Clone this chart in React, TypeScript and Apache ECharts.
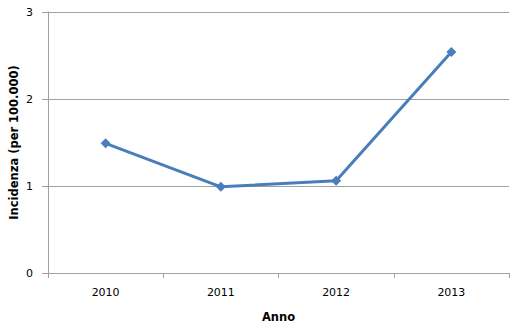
import React, { useEffect, useRef } from "react";
import * as echarts from "echarts";

const categories = ["2010", "2011", "2012", "2013"];
const incidenza = [1.49, 0.99, 1.06, 2.54];
const yTicks = { min: 0, max: 3, interval: 1 };

export default function App() {
  const ref = useRef<HTMLDivElement>(null);
  useEffect(() => {
    const chart = echarts.init(ref.current!, null, { renderer: "svg" });
    const font = "DejaVu Sans, Verdana, sans-serif";
    chart.setOption({
      animation: false,
      backgroundColor: "#ffffff",
      grid: {
        left: 48,
        top: 12,
        right: 14,
        bottom: 57,
        containLabel: false,
        outerBoundsMode: "none",
      },
      xAxis: {
        type: "category",
        data: categories,
        boundaryGap: true,
        name: "Anno",
        nameLocation: "middle",
        nameGap: 38,
        nameMoveOverlap: false,
        nameTextStyle: { fontFamily: font, fontSize: 11.5, fontWeight: "bold", color: "#000" },
        axisLine: { lineStyle: { color: "#a0a0a0", width: 1 } },
        axisTick: { show: true, length: 5, inside: false, lineStyle: { color: "#a0a0a0" } },
        axisLabel: { fontFamily: font, fontSize: 11, color: "#000", margin: 14 },
        splitLine: { show: false },
      },
      yAxis: {
        type: "value",
        min: yTicks.min,
        max: yTicks.max,
        interval: yTicks.interval,
        name: "Incidenza (per 100.000)",
        nameLocation: "middle",
        nameGap: 28,
        nameMoveOverlap: false,
        nameRotate: 90,
        nameTextStyle: { fontFamily: font, fontSize: 11.5, fontWeight: "bold", color: "#000" },
        axisLine: { show: true, lineStyle: { color: "#a0a0a0", width: 1 } },
        axisTick: { show: true, length: 6, lineStyle: { color: "#a0a0a0" } },
        axisLabel: { fontFamily: font, fontSize: 11, color: "#000", margin: 15 },
        splitLine: { show: true, lineStyle: { color: "#a0a0a0", width: 1 } },
      },
      series: [
        {
          type: "line",
          data: incidenza,
          symbol: "diamond",
          symbolSize: 10,
          lineStyle: { color: "#4a7ebb", width: 3 },
          itemStyle: { color: "#4a7ebb" },
        },
      ],
    });
    return () => chart.dispose();
  }, []);
  return (
    <div
      ref={ref}
      style={{ position: "absolute", left: 0, top: 0, width: 523, height: 330 }}
    />
  );
}
